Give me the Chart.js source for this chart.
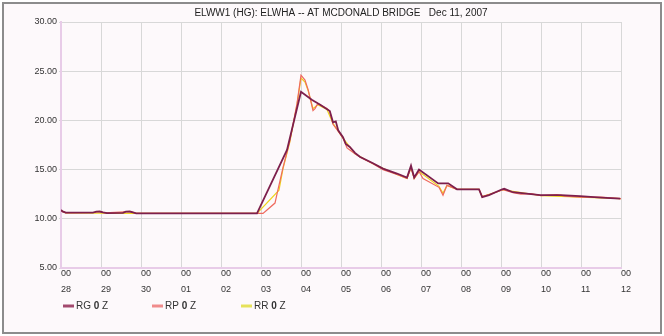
<!DOCTYPE html>
<html>
<head>
<meta charset="utf-8">
<script src="https://cdn.jsdelivr.net/npm/chart.js@4.4.1/dist/chart.umd.min.js"></script>
<style>
  html, body { margin: 0; padding: 0; background: #ffffff; }
  #frame {
    position: absolute; left: 2px; top: 2px; width: 656px; height: 328px;
    border: 2px solid #8c8c8c; background: #fdf9fb;
  }
  #healthChart { position: absolute; left: 0; top: 0; }
</style>
</head>
<body>
<div id="frame"></div>
<canvas id="healthChart" width="664" height="336"></canvas>
<script>
// x values are days since Nov 28 00:00
const dayLabels = ['28', '29', '30', '01', '02', '03', '04', '05', '06', '07', '08', '09', '10', '11', '12'];
const seriesNames = ['RG 0 Z', 'RP 0 Z', 'RR 0 Z'];

const rgDays = [0.00, 0.04, 0.12, 0.80, 0.88, 0.97, 1.05, 1.15, 1.55, 1.62, 1.72, 1.80, 1.88, 4.90,
    5.65, 6.00, 6.27, 6.48, 6.72, 6.80, 6.87, 6.93, 7.05, 7.12, 7.22, 7.35, 7.47, 7.80, 8.05, 8.40,
    8.65, 8.75, 8.83, 8.95, 9.43, 9.68, 9.90, 10.45, 10.53, 10.70, 11.03, 11.08, 11.30, 11.98, 12.50,
    12.98, 13.50, 13.98];
const rgValues = [10.90, 10.75, 10.62, 10.62, 10.72, 10.74, 10.66, 10.58, 10.60, 10.72, 10.74, 10.66, 10.55, 10.55,
    17.00, 22.90, 22.10, 21.60, 20.95, 19.80, 19.90, 19.00, 18.30, 17.60, 17.30, 16.70, 16.30, 15.65, 15.10, 14.60,
    14.20, 15.40, 14.20, 15.00, 13.60, 13.60, 13.00, 13.00, 12.20, 12.40, 13.00, 13.05, 12.70, 12.40, 12.40,
    12.30, 12.15, 12.05];

const rpDays = [0.00, 0.05, 0.12, 0.85, 0.95, 1.10, 1.60, 1.75, 1.88, 5.05, 5.15, 5.35, 5.42, 5.55, 5.72,
    5.90, 6.00, 6.10, 6.18, 6.30, 6.35, 6.42, 6.65, 6.72, 6.80, 6.93, 7.05, 7.15, 7.22, 7.35, 7.50, 7.80,
    8.05, 8.40, 8.65, 8.75, 8.83, 8.95, 9.05, 9.45, 9.55, 9.65, 9.90, 10.45, 10.53, 10.70, 11.05, 11.30,
    11.50, 11.75, 12.00, 12.40, 12.60, 13.00, 13.50, 14.00];
const rpValues = [10.85, 10.70, 10.60, 10.65, 10.72, 10.60, 10.70, 10.70, 10.55, 10.55, 10.90, 11.60, 12.90, 15.20, 17.90,
    21.70, 24.60, 24.10, 23.10, 21.00, 21.20, 21.70, 21.20, 20.90, 19.60, 18.90, 18.20, 17.20, 17.00, 16.60, 16.20, 15.60,
    15.00, 14.50, 14.10, 15.20, 14.10, 14.80, 14.10, 13.20, 12.40, 13.40, 13.00, 13.00, 12.25, 12.45, 12.95, 12.65,
    12.50, 12.55, 12.35, 12.45, 12.30, 12.20, 12.20, 12.05];

const rrDays = [0.00, 0.12, 1.88, 4.90, 5.45, 5.55, 5.72, 5.90, 6.00, 6.10, 6.18, 6.30, 6.42, 6.65, 6.80,
    7.05, 7.35, 7.80, 8.40, 8.65, 8.75, 8.83, 8.95, 9.45, 9.55, 9.65, 9.90, 10.45, 10.53, 11.05, 12.00,
    13.00, 14.00];
const rrValues = [10.85, 10.60, 10.55, 10.55, 12.90, 15.10, 17.80, 21.60, 24.30, 23.90, 23.00, 21.20, 21.60, 21.10, 19.70,
    18.20, 16.60, 15.60, 14.50, 14.10, 15.20, 14.10, 14.80, 13.30, 12.60, 13.40, 13.00, 13.00, 12.25, 12.95, 12.35,
    12.20, 12.05];

const lineColors = ['#7d1f4c', '#ef6a5e', '#eed21a'];
const legendColors = ['#a34a6e', '#f08c8c', '#e6e25a'];
const fontFamily = "'Liberation Sans', Arial, sans-serif";

function toPoints(days, values) {
    return days.map((d, i) => ({ x: d, y: values[i] }));
}

// draws the small legend row under the x axis
const legendPlugin = {
    id: 'bottomLegend',
    afterDraw(chart) {
        const ctx = chart.ctx;
        ctx.save();
        ctx.textBaseline = 'middle';
        seriesNames.forEach((name, i) => {
            const x = 63 + 89 * i;
            const y = 306;
            ctx.strokeStyle = legendColors[i];
            ctx.lineWidth = 3;
            ctx.beginPath();
            ctx.moveTo(x, y);
            ctx.lineTo(x + 11, y);
            ctx.stroke();
            let tx = x + 13;
            name.split(' ').forEach((part, j) => {
                ctx.font = (j === 1 ? 'bold ' : '') + '10px ' + fontFamily;
                ctx.fillStyle = '#333';
                ctx.fillText(part, tx, y);
                tx += ctx.measureText(part + ' ').width;
            });
        });
        ctx.restore();
    }
};

const ctx = document.getElementById('healthChart').getContext('2d');
new Chart(ctx, {
    type: 'line',
    data: {
        datasets: [
            { label: seriesNames[0], data: toPoints(rgDays, rgValues), borderColor: lineColors[0], borderWidth: 1.8 },
            { label: seriesNames[1], data: toPoints(rpDays, rpValues), borderColor: lineColors[1], borderWidth: 1.2 },
            { label: seriesNames[2], data: toPoints(rrDays, rrValues), borderColor: lineColors[2], borderWidth: 1.2 }
        ]
    },
    options: {
        responsive: false,
        animation: false,
        pointRadius: 0,
        elements: { point: { radius: 0 }, line: { tension: 0, fill: false } },
        layout: { padding: { top: 0, left: 0, right: 43, bottom: 38 } },
        plugins: {
            legend: { display: false },
            tooltip: { enabled: false },
            title: {
                display: true,
                fullSize: false,
                text: 'ELWW1 (HG): ELWHA -- AT MCDONALD BRIDGE   Dec 11, 2007',
                color: '#222',
                font: { family: fontFamily, size: 10, weight: 'normal', lineHeight: 1.2 },
                padding: { top: 7, bottom: 3 }
            }
        },
        scales: {
            x: {
                type: 'linear',
                min: 0,
                max: 14,
                afterFit: (scale) => { scale.height = 30; },
                grid: { color: '#d8d8d8', drawTicks: false },
                border: { color: '#e8cce8', width: 2 },
                ticks: {
                    stepSize: 1,
                    align: 'start',
                    padding: -2,
                    color: '#333',
                    maxRotation: 0,
                    autoSkip: false,
                    font: { family: fontFamily, size: 9, lineHeight: '16px' },
                    callback: (v) => ['00', dayLabels[v]]
                }
            },
            y: {
                min: 5,
                max: 30,
                afterFit: (scale) => { scale.width = 61; },
                grid: { color: '#d8d8d8', tickLength: 2 },
                border: { color: '#e8cce8', width: 2 },
                ticks: {
                    stepSize: 5,
                    padding: 2,
                    color: '#333',
                    font: { family: fontFamily, size: 9 },
                    callback: (v) => v.toFixed(2)
                }
            }
        }
    },
    plugins: [legendPlugin]
});
</script>
</body>
</html>
